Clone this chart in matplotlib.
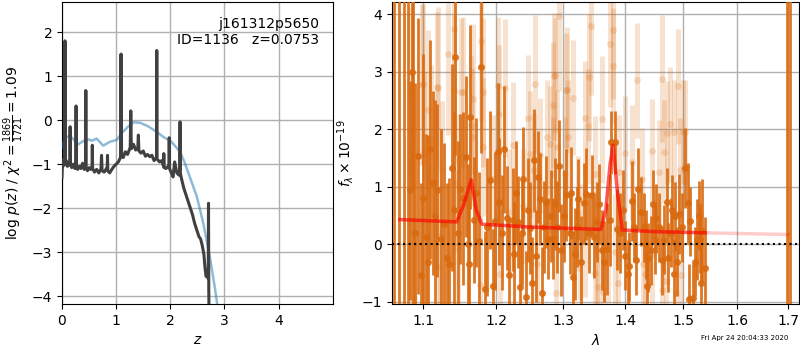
import numpy as np
import matplotlib
matplotlib.use('Agg')
import matplotlib.pyplot as plt
from matplotlib.ticker import FixedLocator, NullLocator, FixedFormatter

# p(z) curve (dark) and fit template curve (blue)
z_pz = [0.00, 0.01, 0.02, 0.04, 0.05, 0.055, 0.06, 0.08, 0.10, 0.12, 0.145, 0.15, 0.155,
        0.18, 0.21, 0.24, 0.255, 0.26, 0.265, 0.29, 0.32, 0.35, 0.38, 0.41, 0.435, 0.44,
        0.445, 0.47, 0.50, 0.53, 0.555, 0.56, 0.565, 0.60, 0.64, 0.68, 0.72, 0.73, 0.74,
        0.78, 0.82, 0.835, 0.84, 0.845, 0.88, 0.92, 0.96, 1.00, 1.04, 1.08, 1.09, 1.10,
        1.13, 1.17, 1.21, 1.26, 1.27, 1.28, 1.32, 1.36, 1.40, 1.41, 1.42, 1.46, 1.50,
        1.54, 1.58, 1.62, 1.66, 1.70, 1.745, 1.75, 1.755, 1.80, 1.84, 1.875, 1.88, 1.885,
        1.92, 1.96, 1.975, 1.98, 1.985, 2.02, 2.05, 2.08, 2.12, 2.16, 2.175, 2.18, 2.185,
        2.21, 2.25, 2.29, 2.33, 2.37, 2.41, 2.45, 2.49, 2.53, 2.56, 2.59, 2.62, 2.64,
        2.66, 2.68, 2.70, 2.705, 2.71, 2.715, 2.72]
logp = [-1.30, -0.90, -1.05, -0.95, -1.00, 1.80, -1.00, -0.92, -1.05, -0.98, -1.02, -0.15, -1.00,
        -1.08, -1.00, -1.10, -1.02, 0.32, -1.05, -1.12, -1.05, -1.10, -0.98, -1.12, -1.05, 0.67,
        -1.08, -1.15, -1.08, -1.12, -1.05, -0.57, -1.10, -1.18, -1.12, -1.20, -1.10, -0.80, -1.15,
        -1.18, -1.10, -1.12, -0.80, -1.15, -1.20, -1.12, -1.05, -1.00, -0.95, -0.85, 1.50, -0.80,
        -0.85, -0.72, -0.78, -0.62, 0.21, -0.65, -0.55, -0.68, -0.62, -0.34, -0.70, -0.75, -0.70,
        -0.82, -0.78, -0.83, -0.80, -0.92, -0.85, 1.58, -0.88, -0.95, -0.92, -1.05, -0.76, -1.08,
        -1.10, -1.05, -1.00, -0.40, -1.10, -1.20, -1.29, -0.95, -1.20, -1.25, -1.10, -0.04, -1.20,
        -1.35, -1.55, -1.70, -1.85, -2.00, -2.15, -2.35, -2.50, -2.65, -2.70, -2.85, -3.05, -3.35,
        -3.55, -3.50, -3.60, -1.89, -3.80, -4.50, -5.00]

z_fit = [0.00, 0.05, 0.15, 0.30, 0.40, 0.49, 0.55, 0.64, 0.76, 0.89, 1.01, 1.10, 1.22, 1.32,
         1.44, 1.59, 1.75, 1.87, 2.02, 2.18, 2.27, 2.36, 2.49, 2.61, 2.73, 2.82, 2.88]
logp_fit = [-0.62, -0.40, -0.36, -0.55, -0.47, -0.44, -0.47, -0.42, -0.58, -0.49, -0.45, -0.30,
            -0.15, -0.05, -0.06, -0.14, -0.27, -0.38, -0.49, -0.72, -0.98, -1.29, -1.74, -2.35,
            -3.11, -3.79, -4.30]

# binned spectrum (dark points)
wave_bin = [1.063, 1.069, 1.075, 1.080, 1.0866, 1.083, 1.085, 1.094, 1.097, 1.104, 1.109, 1.113,
            1.119, 1.128, 1.132, 1.135, 1.138, 1.143, 1.150, 1.158, 1.162, 1.164, 1.169, 1.176,
            1.179, 1.184, 1.191, 1.195, 1.203, 1.205, 1.211, 1.216, 1.219, 1.224, 1.226, 1.232,
            1.235, 1.240, 1.243, 1.250, 1.252, 1.256, 1.261, 1.265, 1.267, 1.273, 1.277, 1.281,
            1.285, 1.290, 1.293, 1.305, 1.310, 1.316, 1.318, 1.324, 1.333, 1.336, 1.345, 1.349,
            1.353, 1.365, 1.370, 1.374, 1.377, 1.383, 1.386, 1.404, 1.407, 1.412, 1.418, 1.422,
            1.427, 1.435, 1.436, 1.439, 1.451, 1.453, 1.463, 1.466, 1.471, 1.474, 1.481, 1.484,
            1.486, 1.493, 1.504, 1.509, 1.510, 1.517, 1.525, 1.530, 1.532, 1.534, 1.539,
            1.090, 1.100, 1.106, 1.116, 1.124, 1.141, 1.147, 1.154, 1.160, 1.172, 1.187, 1.199,
            1.208, 1.229, 1.238, 1.246, 1.259, 1.270, 1.288, 1.297, 1.301, 1.313, 1.321, 1.328,
            1.340, 1.357, 1.361, 1.392, 1.396, 1.400, 1.415, 1.431, 1.443, 1.447, 1.457, 1.478,
            1.490, 1.498, 1.513, 1.521, 1.528,
            1.697, 1.704]
flux_bin = [5.0, 5.0, 5.0, 5.0, 5.0, 0.94, 3.00, 1.53, -0.54, 0.12, 1.65, 1.06,
            0.94, 0.36, -0.24, -0.35, 1.33, 3.25, 0.96, 1.52, -0.35, 2.22, 0.42, 0.06,
            3.08, -0.77, 1.12, -0.73, 1.61, 0.74, 1.65, 0.46, -0.54, 0.43, -0.17, 0.39,
            -0.74, 1.14, -0.92, 0.28, -0.68, 1.46, 1.17, 0.78, -0.84, 0.74, 0.10, 0.50,
            0.10, 0.30, 1.36, 0.85, 0.19, -0.56, -0.17, 0.78, 0.71, 0.88, 0.85, 0.12,
            0.39, -0.30, -0.08, 0.42, 1.77, 1.77, 0.26, -0.52, -0.38, 0.75, -0.28, 0.97,
            0.57, 0.00, -0.72, -0.23, 0.08, 0.45, -0.28, 0.08, 0.73, -0.23, 0.60, -0.51,
            0.49, 0.53, 1.33, 0.71, -0.95, -0.94, 0.08, 0.10, -0.68, 0.24, -0.42,
            0.2, 0.8, -0.3, 0.5, 0.1, 0.6, 0.2, 0.8, 0.0, 0.9, 0.3, 0.4,
            0.2, 0.9, 0.2, 0.6, -0.2, 0.3, 0.7, -0.1, 0.5, 0.9, 0.3, -0.3,
            0.2, 0.7, -0.1, 0.2, 0.6, -0.2, 0.3, 0.3, -0.1, 0.7, 0.3, 0.2,
            -0.3, 0.3, 0.4, -0.3, 0.5,
            5.0, 5.0]
err_bin = [7.0, 7.0, 7.0, 7.0, 7.0, 1.9, 2.0, 2.4, 1.6, 1.8, 1.9, 1.6,
           1.5, 1.4, 1.3, 1.5, 1.8, 1.7, 1.3, 1.4, 1.2, 1.6, 1.1, 1.2,
           1.5, 1.0, 1.2, 1.0, 1.2, 1.1, 1.1, 0.9, 1.0, 0.9, 0.9, 0.8,
           0.9, 0.9, 0.8, 0.8, 0.8, 0.9, 0.8, 0.8, 0.8, 0.8, 0.7, 0.8,
           0.7, 0.8, 0.8, 0.8, 0.7, 0.8, 0.8, 0.7, 0.7, 0.8, 0.7, 0.7,
           0.7, 0.7, 0.8, 0.8, 0.55, 0.55, 0.7, 0.6, 0.6, 0.7, 0.6, 0.7,
           0.6, 0.6, 0.6, 0.6, 0.6, 0.6, 0.6, 0.6, 0.6, 0.6, 0.6, 0.6,
           0.6, 0.7, 0.7, 0.7, 0.6, 0.6, 0.7, 0.6, 0.7, 0.9, 0.9,
           2.6, 2.5, 2.2, 2.0, 1.9, 1.7, 1.6, 1.5, 1.4, 1.3, 1.2, 1.2,
           1.0, 0.9, 0.9, 0.9, 0.8, 0.8, 0.8, 0.8, 0.8, 0.8, 0.7, 0.8,
           0.7, 0.7, 0.7, 0.7, 0.7, 0.6, 0.6, 0.6, 0.6, 0.6, 0.6, 0.6,
           0.6, 0.6, 0.6, 0.6, 0.6,
           7.0, 7.0]

# unbinned spectrum (pale points)
wave_raw = [1.083, 1.098, 1.106, 1.119, 1.133, 1.141, 1.142, 1.151, 1.167, 1.165, 1.179, 1.181,
            1.203, 1.213, 1.204, 1.225, 1.247, 1.257, 1.286, 1.293, 1.284, 1.306, 1.316, 1.340,
            1.344, 1.339, 1.374, 1.379, 1.380, 1.419, 1.462, 1.491, 1.476, 1.504, 1.120, 1.153,
            1.100, 1.111, 1.166, 1.182, 1.125, 1.145, 1.101, 1.086, 1.122, 1.120, 1.147, 1.177,
            1.088, 1.195, 1.288, 1.305, 1.334, 1.275, 1.280, 1.307, 1.291, 1.250, 1.264, 1.255,
            1.285, 1.303, 1.350, 1.361, 1.240, 1.219, 1.327, 1.353, 1.260, 1.206, 1.350, 1.289,
            1.356, 1.324, 1.335, 1.472, 1.484, 1.500, 1.446, 1.466, 1.399, 1.412, 1.428, 1.457,
            1.495, 1.390, 1.372, 1.383, 1.388, 1.364, 1.430, 1.434, 1.462, 1.487, 1.497, 1.469,
            1.446]
flux_raw = [2.62, 2.77, 2.33, 2.74, 3.30, 3.75, 2.69, 2.64, 2.53, 2.07, 3.54, 2.64,
            2.75, 2.71, 2.26, 1.72, 2.19, 2.79, 2.92, 3.97, 2.42, 2.68, 2.55, 2.90,
            3.79, 2.05, 3.48, 3.73, 3.10, 2.85, 2.88, 2.75, 2.09, 1.95, 2.72, 2.65,
            2.78, 1.81, 1.87, 1.69, 1.29, 1.06, 1.61, 0.24, 0.14, -0.39, 0.10, -0.71,
            -0.93, 1.14, 2.94, 2.68, 2.19, 1.86, 1.75, 1.86, 1.69, 1.57, 1.55, 1.29,
            1.22, 1.22, 1.23, 2.17, 0.66, 0.56, 0.04, -0.08, -0.34, -0.51, -0.50, -0.84,
            -0.74, 0.54, 0.08, 1.94, 1.95, 1.95, 1.62, 1.61, 1.58, 1.43, 1.13, 1.26,
            1.29, 1.25, -0.02, -0.13, -0.68, -0.83, -0.34, -0.51, -0.80, -0.85, -0.54, -0.63,
            -0.16]
err_raw = [1.5, 1.4, 1.4, 1.3, 1.4, 1.5, 1.3, 1.3, 1.3, 1.2, 1.4, 1.3,
           1.2, 1.2, 1.2, 1.1, 1.1, 1.2, 1.1, 1.3, 1.1, 1.1, 1.0, 1.1,
           1.2, 1.0, 1.1, 1.2, 1.0, 1.0, 1.1, 1.0, 1.0, 0.9, 1.4, 1.3,
           1.4, 1.3, 1.2, 1.2, 1.2, 1.2, 1.4, 1.4, 1.3, 1.3, 1.2, 1.2,
           1.4, 1.1, 1.0, 1.0, 1.0, 1.0, 1.0, 1.0, 1.0, 1.1, 1.0, 1.0,
           1.0, 1.0, 1.0, 1.1, 1.0, 1.1, 1.0, 1.0, 1.0, 1.1, 1.0, 1.0,
           1.0, 1.0, 1.0, 0.9, 0.9, 0.9, 0.9, 0.9, 1.0, 1.0, 0.9, 0.9,
           0.9, 1.0, 1.0, 1.0, 1.0, 1.0, 0.9, 0.9, 0.9, 0.9, 0.9, 0.9,
           0.9]

# best-fit model
wave_model = [1.070, 1.145, 1.155, 1.165, 1.172, 1.180, 1.250, 1.300, 1.360, 1.368, 1.375,
              1.380, 1.387, 1.395, 1.450, 1.540]
flux_model = [0.43, 0.39, 0.70, 1.12, 0.60, 0.35, 0.30, 0.28, 0.26, 0.60, 1.40,
              1.72, 0.90, 0.25, 0.22, 0.20]
wave_model_ext = [1.540, 1.700]
flux_model_ext = [0.20, 0.17]

label_root = 'j161312p5650'
label_id = 'ID=1136   z=0.0753'
stamp = 'Fri Apr 24 20:04:33 2020'

fig = plt.figure(figsize=(8, 3.5), dpi=100)
ax1 = fig.add_axes([0.0775, 0.131, 0.3385, 0.863])
ax2 = fig.add_axes([0.49, 0.131, 0.5085, 0.863])

# left: p(z)
ax1.plot(z_fit, logp_fit, color='tab:blue', alpha=0.5, lw=1.8, zorder=3)
ax1.plot(z_pz, logp, color='0.25', lw=2.2, zorder=4)
ax1.set_xlim(0, 5.0)
ax1.set_ylim(-4.18, 2.68)
ax1.set_xticks([0, 1, 2, 3, 4])
ax1.set_yticks([-4, -3, -2, -1, 0, 1, 2])
ax1.grid(True, color='#b0b0b0', lw=1)
ax1.set_axisbelow(True)
ax1.set_xlabel(r'$z$')
ax1.set_ylabel(r'log $p(z)$ / $\chi^2=\frac{1869}{1721}=1.09$')
ax1.text(0.95, 0.95, label_root + '\n' + label_id, transform=ax1.transAxes,
         ha='right', va='top', fontsize=10)

# right: spectrum
orange = '#d96a0f'
ax2.errorbar(wave_raw, flux_raw, yerr=err_raw, fmt='o', color=orange, alpha=0.2,
             ms=5, lw=3.5, mec='none', zorder=2)
ax2.errorbar(wave_bin, flux_bin, yerr=err_bin, fmt='o', color=orange, alpha=0.9,
             ms=5, lw=2, mec='none', zorder=3)
ax2.plot(wave_model + wave_model_ext[1:], flux_model + flux_model_ext[1:], color='r',
         alpha=0.2, lw=2.5, zorder=4)
ax2.plot(wave_model, flux_model, color='r', alpha=0.55, lw=2.5, zorder=5)
ax2.axhline(0, color='k', ls=':', lw=1.5, zorder=6)

ax2.set_xscale('log')
ax2.set_xlim(1.06, 1.722)
ax2.set_ylim(-1.04, 4.21)
ax2.xaxis.set_major_locator(FixedLocator([1.1, 1.2, 1.3, 1.4, 1.5, 1.6, 1.7]))
ax2.xaxis.set_major_formatter(FixedFormatter(['1.1', '1.2', '1.3', '1.4', '1.5', '1.6', '1.7']))
ax2.xaxis.set_minor_locator(NullLocator())
ax2.set_yticks([-1, 0, 1, 2, 3, 4])
ax2.grid(True, color='#b0b0b0', lw=1)
ax2.set_axisbelow(True)
ax2.set_xlabel(r'$\lambda$')
ax2.set_ylabel(r'$f_\lambda\times10^{-19}$')

fig.text(0.985, 0.025, stamp, ha='right', va='bottom', fontsize=5)

fig.savefig('out.png', dpi=100)
